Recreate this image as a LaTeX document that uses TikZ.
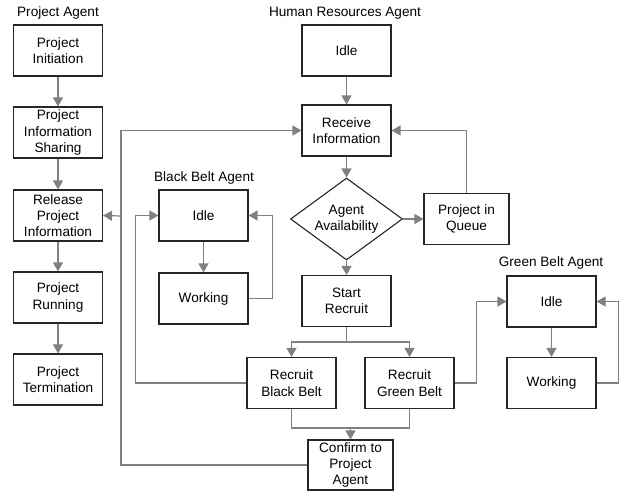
\documentclass[tikz,border=0pt]{standalone}
\usepackage{xcolor}
\usepackage{fontspec}
\setmainfont{Liberation Sans}
\usepackage{tikz}
\usetikzlibrary{arrows.meta,positioning,shapes.geometric}

\begin{document}
\begin{tikzpicture}[x=1pt,y=-1pt,
        font=\fontsize{13.6}{16.3}\selectfont,
        state/.style={draw=black!85,line width=1.1pt,align=center,inner sep=0pt,minimum width=89pt,minimum height=51pt},
        choice/.style={draw=black!85,line width=1.1pt,diamond,aspect=1.37,align=center,inner sep=0pt,minimum width=112pt,minimum height=82pt},
        agent/.style={inner sep=0pt},
        flow/.style={draw=black!50,line width=1.2pt,-{Triangle[length=9pt,width=10pt]}},
        wire/.style={draw=black!50,line width=1.2pt}]
        \useasboundingbox (0,0) rectangle (620,492);
        % project agent
        \node[agent] (lproj) at (58,13) {Project Agent};
        \node[state] (pinit) at (58,50.5) {Project\\Initiation};
        \node[state] (pshare) at (58,132.5) {Project\\Information\\Sharing};
        \node[state] (prelease) at (58,215.5) {Release\\Project\\Information};
        \node[state] (prun) at (58,297.5) {Project\\Running};
        \node[state] (pterm) at (58,379.5) {Project\\Termination};
        % human resources agent
        \node[agent] (lhr) at (345,13) {Human Resources Agent};
        \node[state] (hidle) at (346.5,50.5) {Idle};
        \node[state] (hrecv) at (346.5,130.5) {Receive\\Information};
        \node[choice] (havail) at (346.5,219) {Agent\\Availability};
        \node[state,minimum width=85pt] (hqueue) at (466.5,219) {Project in\\Queue};
        \node[state] (hstart) at (346.5,301) {Start\\Recruit};
        \node[state] (hrbb) at (291.5,383) {Recruit\\Black Belt};
        \node[state] (hrgb) at (409.5,383) {Recruit\\Green Belt};
        \node[state,minimum width=85pt,minimum height=50pt] (hconf) at (350.5,465) {Confirm to\\Project\\Agent};
        % black belt agent
        \node[agent] (lbb) at (204,178) {Black Belt Agent};
        \node[state] (bidle) at (203.5,215.5) {Idle};
        \node[state] (bwork) at (203.5,298.5) {Working};
        % green belt agent
        \node[agent] (lgb) at (551,263) {Green Belt Agent};
        \node[state] (gidle) at (551.5,301.5) {Idle};
        \node[state] (gwork) at (551.5,383) {Working};

        \coordinate (fb) at (121,216);
        \coordinate (merge) at (350.5,428);

        \draw[flow] (pinit) -- (pshare);
        \draw[flow] (pshare) -- (prelease);
        \draw[flow] (prelease) -- (prun);
        \draw[flow] (prun) -- (pterm);

        \draw[flow] (hidle) -- (hrecv);
        \draw[flow] (hrecv) -- (havail);
        \draw[flow] (havail) -- (hqueue);
        \draw[flow] (havail) -- (hstart);
        \draw[flow] (hqueue.north) |- (hrecv.east);
        \draw[flow] (hstart.south) -- ++(0,15) -| (hrbb.north);
        \draw[flow] (hstart.south) -- ++(0,15) -| (hrgb.north);
        \draw[wire] (hrbb.south) |- (merge);
        \draw[wire] (hrgb.south) |- (merge);
        \draw[flow] (merge) -- (hconf.north);
        \draw[flow] (hconf.west) -| (fb) |- (hrecv.west);
        \draw[flow] (fb) -- (prelease.east);

        \draw[flow] (bidle) -- (bwork);
        \draw[flow] (bwork.east) -- ++(24,0) |- (bidle.east);
        \draw[flow] (hrbb.west) -| ([xshift=-23pt]bidle.west) -- (bidle.west);

        \draw[flow] (gidle) -- (gwork);
        \draw[flow] (gwork.east) -- ++(22,0) |- (gidle.east);
        \draw[flow] (hrgb.east) -| ([xshift=-30pt]gidle.west) -- (gidle.west);
    \end{tikzpicture}
\end{document}
